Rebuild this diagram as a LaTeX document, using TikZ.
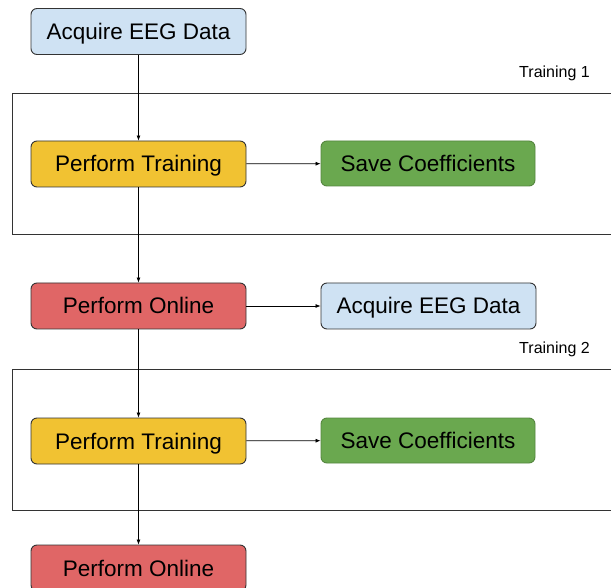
\documentclass[tikz,border=0pt]{standalone}
\usepackage{fontspec}
\setmainfont{Liberation Sans}
\usetikzlibrary{arrows.meta}
\definecolor{cblue}{HTML}{CFE2F3}
\definecolor{cyellow}{HTML}{F1C232}
\definecolor{cgreen}{HTML}{6AA84F}
\definecolor{cred}{HTML}{E06666}
\definecolor{cline}{HTML}{333333}
\begin{document}
\begin{tikzpicture}[x=1pt,y=-1pt,
  box/.style={rounded corners=6pt,draw=cline,line width=0.9pt,minimum width=215pt,minimum height=46pt,inner sep=0pt,font=\fontsize{22.5}{25}\selectfont,text=black,text height=16pt,text depth=0pt},
  bluebox/.style={box,fill=cblue},
  yellowbox/.style={box,fill=cyellow},
  greenbox/.style={box,fill=cgreen,draw=cgreen!80!black,minimum width=214pt,minimum height=45pt},
  redbox/.style={box,fill=cred},
  frame/.style={draw=cline,line width=0.9pt},
  flow/.style={draw=black,line width=0.7pt,-{Latex[length=5pt,width=4pt]}},
  lbl/.style={font=\fontsize{16}{18}\selectfont,text=black,inner sep=0pt}]
\useasboundingbox (0,0) rectangle (611,588);
\clip (0,0) rectangle (611,588);
\fill[white] (0,0) rectangle (611,588);
% frames
\draw[frame] (12,93) rectangle (640,234);
\draw[frame] (12,369) rectangle (640,510);
\node[lbl,anchor=east] (t1) at (590,73) {Training 1};
\node[lbl,anchor=east] (t2) at (590,349) {Training 2};
% nodes
\node[bluebox] (acq1) at (138.5,31.5) {Acquire EEG Data};
\node[yellowbox] (tr1) at (138.5,164) {Perform Training};
\node[greenbox] (sv1) at (428,163.5) {Save Coefficients};
\node[redbox] (on1) at (138.5,306) {Perform Online};
\node[bluebox] (acq2) at (428.5,306) {Acquire EEG Data};
\node[yellowbox] (tr2) at (138.5,441) {Perform Training};
\node[greenbox] (sv2) at (428,440.5) {Save Coefficients};
\node[redbox] (on2) at (138.5,568) {Perform Online};
% connectors
\draw[flow] (acq1) -- (tr1);
\draw[flow] (tr1) -- (sv1);
\draw[flow] (tr1) -- (on1);
\draw[flow] (on1) -- (acq2);
\draw[flow] (on1) -- (tr2);
\draw[flow] (tr2) -- (sv2);
\draw[flow] (tr2) -- (on2);
\end{tikzpicture}
\end{document}
